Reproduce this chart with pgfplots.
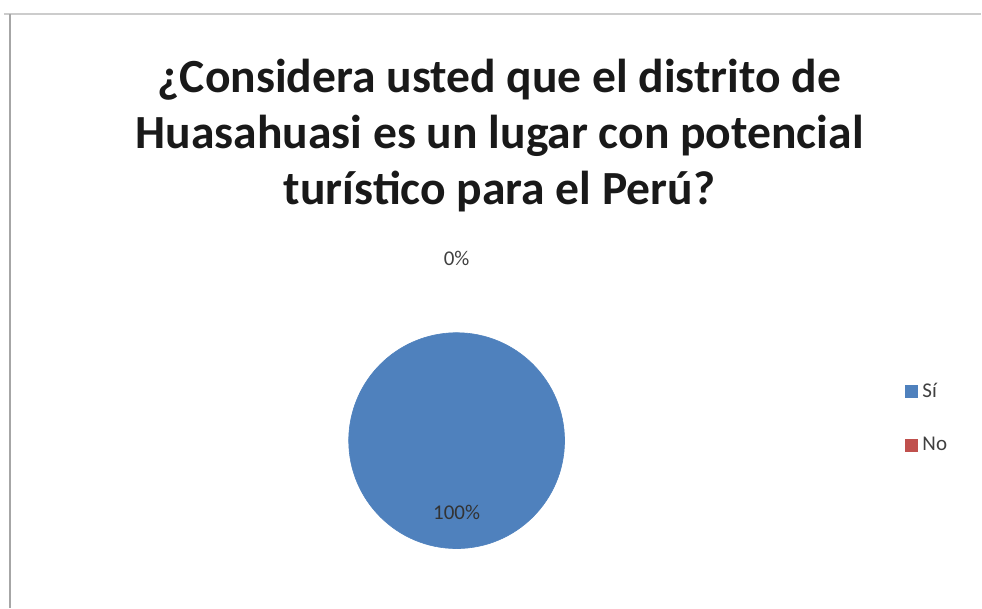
\documentclass[border=0pt]{standalone}
\usepackage{pgfplots}
\usepackage{pgfplotstable}
\pgfplotsset{compat=1.18}
\usepackage{fontspec}
\setmainfont{Carlito}
\definecolor{sicolor}{HTML}{4F81BD}
\definecolor{nocolor}{HTML}{C0504D}
\definecolor{labgray}{HTML}{404040}
\pgfplotstableread{
slice value
Si 100
No 0
}\piedata
\begin{document}
\begin{tikzpicture}
\pgfplotstablegetelem{0}{value}\of\piedata \global\let\vsi\pgfplotsretval
\pgfplotstablegetelem{1}{value}\of\piedata \global\let\vno\pgfplotsretval
\pgfmathtruncatemacro{\hassi}{\vsi>0}
\pgfmathtruncatemacro{\hasno}{\vno>0}
\begin{axis}[
  width=491pt, height=304pt, scale only axis,
  xmin=0, xmax=982, ymin=0, ymax=608,
  hide axis, clip=false,
  legend style={at={(axis cs:905,230)}, anchor=north west, draw=none, fill=none,
    font=\fontsize{10.5}{12}\selectfont, text=labgray, row sep=13.5pt,
    inner sep=0pt, nodes={inner sep=2.5pt}},
  legend cell align=left,
]
\path (axis cs:0,0) rectangle (axis cs:982,608);
% frame
\draw[black!20, line width=0.8pt] (axis cs:4,594) -- (axis cs:982,594);
\draw[black!35, line width=1.2pt] (axis cs:10,0) -- (axis cs:10,594);
% pie slices (clockwise from 12 o'clock), drawn only when non-zero
\ifnum\hassi=1
\filldraw[sicolor, line width=0.3pt] (axis cs:457,167) -- ++(90:54pt) arc[start angle=90, delta angle=-3.6*\vsi, radius=54pt] -- cycle;
\fi
\ifnum\hasno=1
\filldraw[nocolor, line width=0.3pt] (axis cs:457,167) -- ++({90-3.6*\vsi}:54pt) arc[start angle={90-3.6*\vsi}, delta angle=-3.6*\vno, radius=54pt] -- cycle;
\fi
% labels
\node[font=\fontsize{10.5}{12}\selectfont, text=labgray] at (axis cs:457,349) {0\%};
\node[font=\fontsize{10.5}{12}\selectfont, text=black!80] at (axis cs:457,95) {100\%};
% title
\node[font=\bfseries\fontsize{23.8}{28}\selectfont, align=center, text=black!90] at (axis cs:500,472) {¿Considera usted que el distrito de\\Huasahuasi es un lugar con potencial\\turístico para el Perú?};
\addlegendimage{legend image code/.code={\fill[sicolor] (0pt,-3pt) rectangle (6pt,3pt);}}
\addlegendentry{Sí}
\addlegendimage{legend image code/.code={\fill[nocolor] (0pt,-3pt) rectangle (6pt,3pt);}}
\addlegendentry{No}
\end{axis}
\end{tikzpicture}
\end{document}
